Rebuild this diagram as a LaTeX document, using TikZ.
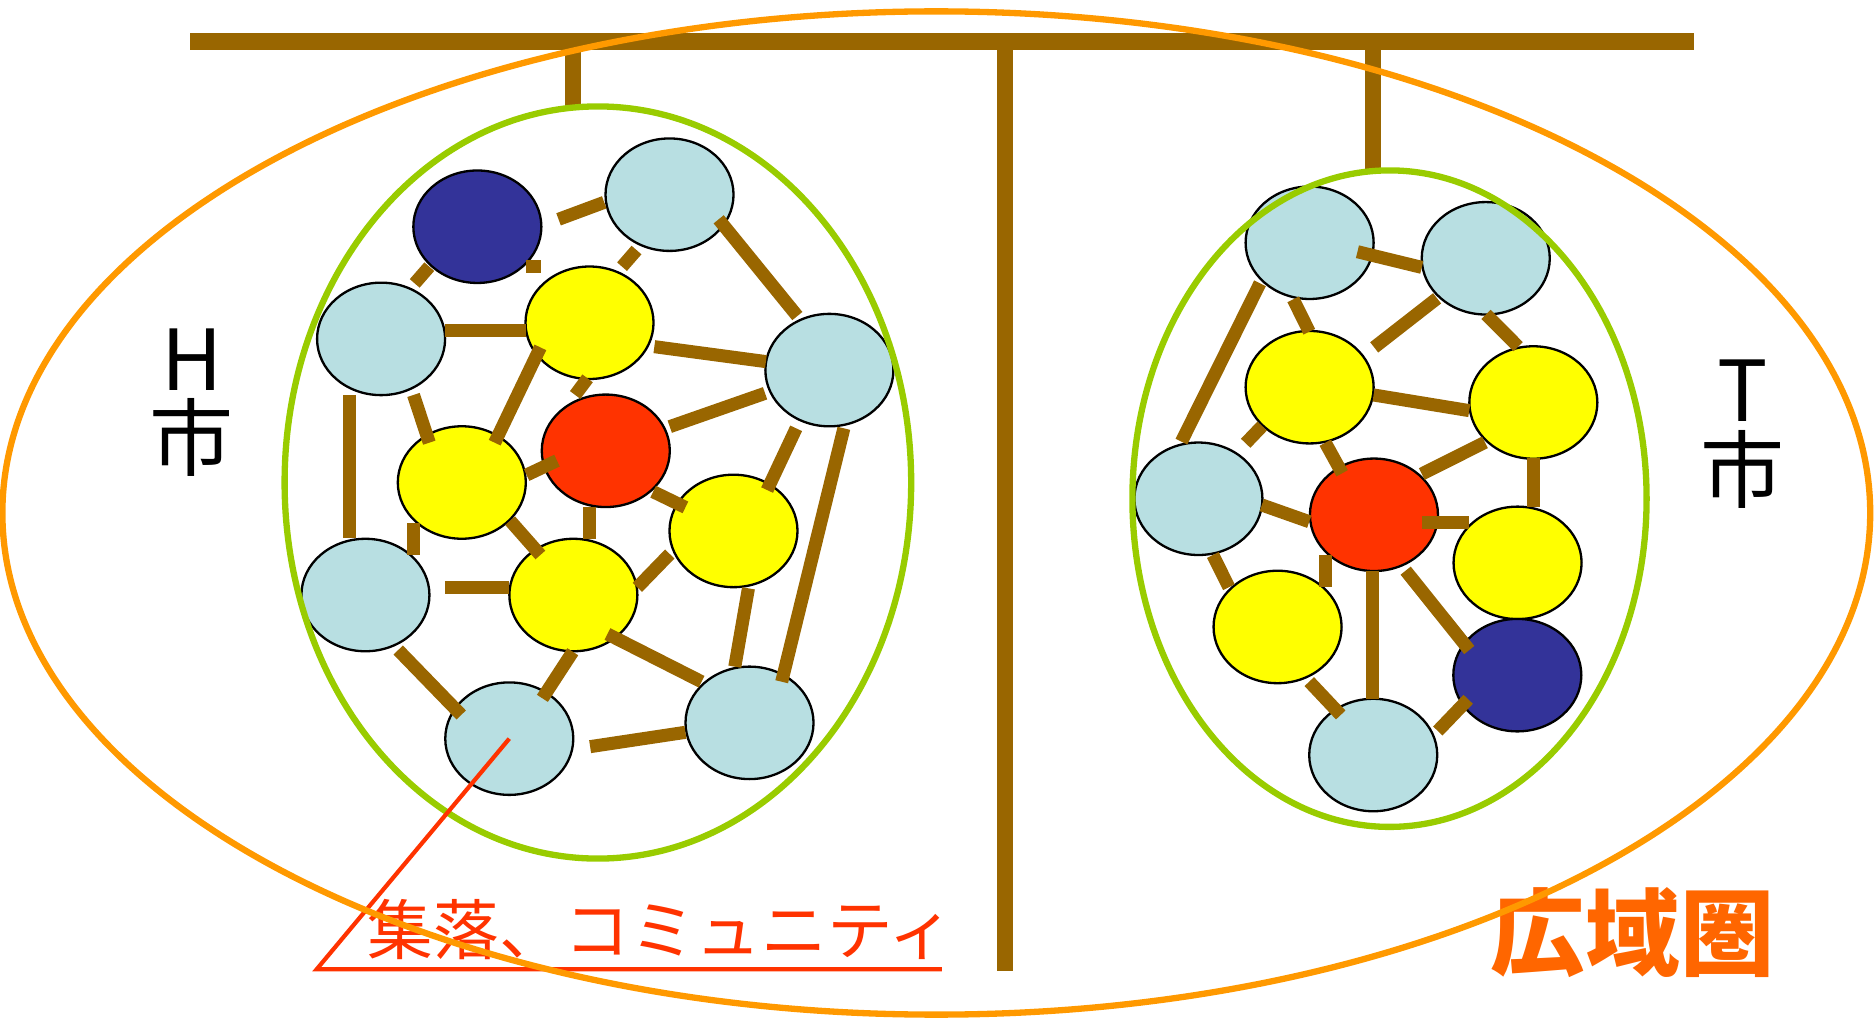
\documentclass[tikz,border=0pt]{standalone}
\usepackage{fontspec}
\newfontfamily\jp{Noto Sans CJK JP}
\usetikzlibrary{shapes.geometric}
\definecolor{lblue}{HTML}{B8DFE2}
\definecolor{dblue}{HTML}{333399}
\definecolor{nred}{HTML}{FF3300}
\definecolor{nyel}{HTML}{FFFF00}
\definecolor{brownish}{HTML}{996600}
\definecolor{lgreen}{HTML}{99CC00}
\definecolor{orng}{HTML}{FF9900}
\definecolor{txtred}{HTML}{FF3300}
\definecolor{txtorg}{HTML}{FF6600}
\begin{document}
\begin{tikzpicture}[x=0.01cm,y=-0.01cm,
  village/.style={ellipse, draw=black, line width=0.55pt, minimum width=1.07cm, minimum height=0.94cm, inner sep=0pt},
  lb/.style={village, fill=lblue},
  db/.style={village, fill=dblue},
  rd/.style={village, fill=nred},
  yl/.style={village, fill=nyel},
  link/.style={draw=brownish, line width=3.1pt},
  pole/.style={draw=brownish, line width=3.9pt},
  zone/.style={draw=lgreen, line width=1.5pt},
  region/.style={draw=orng, line width=1.5pt},
  citylabel/.style={font=\jp\fontsize{20pt}{20pt}\selectfont, inner sep=0pt, text=black}]
\useasboundingbox (0,0) rectangle (1568,851);

% bar and poles
\coordinate (barL) at (159,35);
\coordinate (barR) at (1417,35);
\coordinate (hangH) at (479.2,35);
\coordinate (hangHend) at (479.2,90);
\coordinate (poleTop) at (840.4,35);
\coordinate (poleEnd) at (840.4,812);
\coordinate (hangT) at (1148.2,35);
\coordinate (hangTend) at (1148.2,143);
\draw[pole] (hangH) -- (hangHend);
\draw[pole] (poleTop) -- (poleEnd);
\draw[pole] (hangT) -- (hangTend);
\draw[pole, line width=4.1pt] (barL) -- (barR);

% left cluster (H city)
\node[db] (L1) at (399.2,189.6) {};
\node[lb] (L2) at (559.9,162.8) {};
\node[lb] (L3) at (318.7,283.4) {};
\node[yl] (L4) at (493,269.9) {};
\node[lb] (L5) at (693.6,309.5) {};
\node[rd] (L6) at (506.6,377) {};
\node[yl] (L7) at (386.2,403.5) {};
\node[yl] (L8) at (613.4,444) {};
\node[lb] (L9) at (305.6,497.6) {};
\node[yl] (L10) at (479.5,497.6) {};
\node[lb] (L11) at (425.9,617.7) {};
\node[lb] (L12) at (626.8,604.5) {};

\draw[link] (467.1,183.4) -- (505.3,169.2);
\draw[link] (439.7,223) -- (452.6,223);
\draw[link] (359,223) -- (346.8,237);
\draw[link] (532.3,209.1) -- (520.2,223);
\draw[link] (601,183.4) -- (666.8,264.3);
\draw[link] (372.1,276.5) -- (439.8,276.5);
\draw[link] (547.2,289.9) -- (640.5,302.4);
\draw[link] (491.4,316.4) -- (481,330.3);
\draw[link] (451.9,290.5) -- (413.7,370.2);
\draw[link] (345.8,330.3) -- (359,370.2);
\draw[link] (292.1,330.3) -- (292.1,450.2);
\draw[link] (560.1,356.8) -- (639.8,328.9);
\draw[link] (440.4,397.2) -- (465.8,385.2);
\draw[link] (546.2,411.2) -- (573.2,424.3);
\draw[link] (665.8,358.2) -- (641.5,409.8);
\draw[link] (705.7,358.2) -- (653.7,570.1);
\draw[link] (345.8,437.1) -- (345.8,464.1);
\draw[link] (426.6,435.4) -- (451.9,464.1);
\draw[link] (492.8,423.7) -- (492.8,450.7);
\draw[link] (533,491.2) -- (560.1,463.3);
\draw[link] (372.1,491.2) -- (425.9,491.2);
\draw[link] (333,543.6) -- (385.7,597.9);
\draw[link] (479,545) -- (453.6,584);
\draw[link] (508,530.2) -- (586.7,570.1);
\draw[link] (625.9,492) -- (614.5,557.5);
\draw[link] (493.5,624.4) -- (573.2,612.4);

% right cluster (T city)
\node[lb] (R1) at (1095.2,203) {};
\node[lb] (R2) at (1242.5,216) {};
\node[yl] (R3) at (1095.2,323.8) {};
\node[yl] (R4) at (1282.3,336.6) {};
\node[lb] (R5) at (1002.2,417.1) {};
\node[rd] (R6) at (1149,430.5) {};
\node[yl] (R7) at (1269.1,470.7) {};
\node[yl] (R8) at (1068.4,524.3) {};
\node[db] (R9) at (1268.9,564.6) {};
\node[lb] (R10) at (1148.4,631.4) {};

\draw[link] (1135.2,210.5) -- (1189,223.6);
\draw[link] (1053.7,236.9) -- (988,369.3);
\draw[link] (1081.5,250.3) -- (1094.9,277.4);
\draw[link] (1201.8,249.5) -- (1149.2,290.5);
\draw[link] (1242.7,262.9) -- (1269.6,289.9);
\draw[link] (1148.7,330.3) -- (1228.7,343.4);
\draw[link] (1055.5,356.3) -- (1041.7,370.7);
\draw[link] (1108.3,370.2) -- (1122.4,395.8);
\draw[link] (1241.8,369.9) -- (1189,396.4);
\draw[link] (1282.1,383.3) -- (1282.1,423.7);
\draw[link] (1055.2,422.3) -- (1094.9,436.3);
\draw[link] (1189,437.1) -- (1228.7,437.1);
\draw[link] (1014.3,464.1) -- (1027.7,491.1);
\draw[link] (1108.3,464.1) -- (1108.3,490.6);
\draw[link] (1148,477.2) -- (1148,584.8);
\draw[link] (1175.5,477.2) -- (1228.7,543.6);
\draw[link] (1094.9,570) -- (1121.2,597.9);
\draw[link] (1227.8,584.8) -- (1202.4,611.3);

% city zones
\draw[zone] (500,403.5) ellipse [x radius=262, y radius=314.5];
\draw[zone] (1162,417) ellipse [x radius=215, y radius=274.5];

% labels
\node[citylabel] (hH) at (160.3,301) {H};
\node[citylabel] (hShi) at (160.3,366) {市};
\node[citylabel] (tT) at (1457.2,327) {T};
\node[citylabel] (tShi) at (1457.2,393) {市};

\node[anchor=west, inner sep=0pt, text=txtred, font=\jp\fontsize{15.6pt}{15.6pt}\selectfont] (community) at (307,777) {集落、コミュニティ};
\coordinate (ptrA) at (264.8,810.6);
\coordinate (ptrB) at (787.6,810.6);
\draw[draw=txtred, line width=1pt] (L11.center) -- (ptrA) -- (ptrB);

\node[inner sep=0pt, text=txtorg, font=\jp\bfseries\fontsize{22.5pt}{22.5pt}\selectfont] (koiki) at (1365.5,780) {広域圏};

% wide area
\draw[region] (783,429) ellipse [x radius=781, y radius=419.5];
\end{tikzpicture}
\end{document}
